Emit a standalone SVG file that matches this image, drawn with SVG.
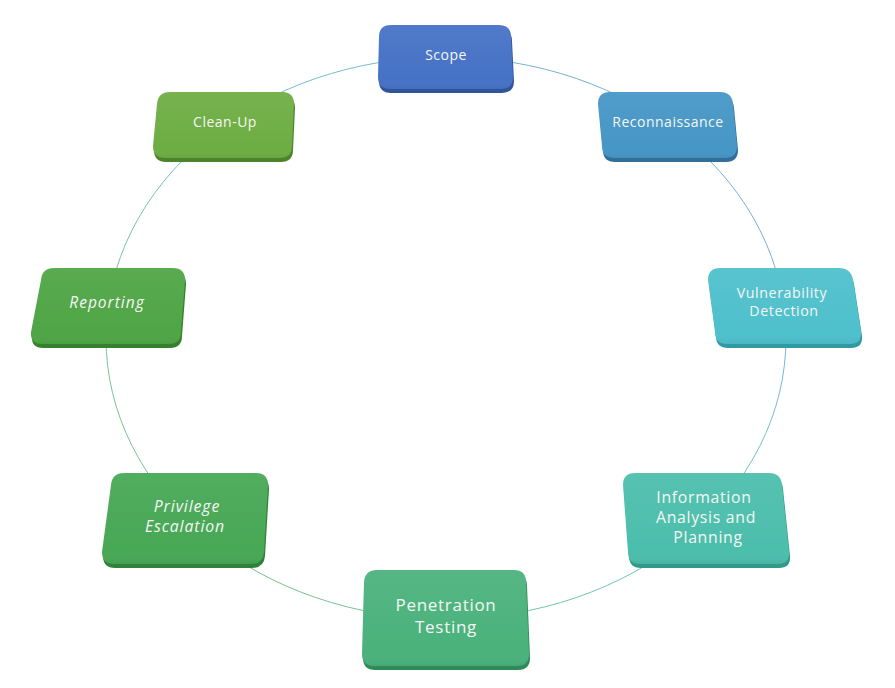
<svg xmlns="http://www.w3.org/2000/svg" width="895" height="688" viewBox="0 0 895 688">
<defs>
<linearGradient id="ring" x1="1" y1="0" x2="0" y2="1">
<stop offset="0" stop-color="#7aa2d8"/>
<stop offset="0.45" stop-color="#72c4c8"/>
<stop offset="1" stop-color="#7cc07a"/>
</linearGradient>
<linearGradient id="sheen" x1="0" y1="0" x2="0" y2="1">
<stop offset="0" stop-color="#ffffff" stop-opacity="0.06"/>
<stop offset="0.85" stop-color="#ffffff" stop-opacity="0"/>
<stop offset="1" stop-color="#000000" stop-opacity="0.05"/>
</linearGradient>
</defs>
<style>
.bevel{stroke:none}
.face{stroke:none}
.sheen{fill:url(#sheen);stroke:none}
.lbl{font-family:"Open Sans","Noto Sans","Liberation Sans",sans-serif;fill:#f4f7f4;text-anchor:middle;letter-spacing:0.5px}
.it{font-style:italic}
</style>
<rect width="895" height="688" fill="#ffffff"/>
<g id="connectors">
<ellipse cx="446" cy="338" rx="340" ry="281" fill="none" stroke="url(#ring)" stroke-width="1"/>
</g>
<g id="scope">
<path class="bevel" fill="#31559a" transform="translate(1,4)" d="M391,25 H499 Q511,25 511,37 L513,77 Q513,89 501,89 H390 Q378,89 378,77 L379,37 Q379,25 391,25 Z"/>
<path class="face" fill="#4672c6" d="M391,25 H499 Q511,25 511,37 L513,77 Q513,89 501,89 H390 Q378,89 378,77 L379,37 Q379,25 391,25 Z"/>
<path class="sheen" d="M391,25 H499 Q511,25 511,37 L513,77 Q513,89 501,89 H390 Q378,89 378,77 L379,37 Q379,25 391,25 Z"/>
<text class="lbl" x="446" y="60" font-size="14">Scope</text>
</g>
<g id="reconnaissance">
<path class="bevel" fill="#2f6f98" transform="translate(1,4)" d="M610,92 H720 Q732,92 733,104 L737,146 Q737,158 725,158 H614 Q602,158 602,146 L598,104 Q598,92 610,92 Z"/>
<path class="face" fill="#4696c6" d="M610,92 H720 Q732,92 733,104 L737,146 Q737,158 725,158 H614 Q602,158 602,146 L598,104 Q598,92 610,92 Z"/>
<path class="sheen" d="M610,92 H720 Q732,92 733,104 L737,146 Q737,158 725,158 H614 Q602,158 602,146 L598,104 Q598,92 610,92 Z"/>
<text class="lbl" x="668" y="127" font-size="14">Reconnaissance</text>
</g>
<g id="vulnerability-detection">
<path class="bevel" fill="#2f9aa4" transform="translate(1,4)" d="M720,268 H839 Q851,268 853,280 L861,332 Q862,344 850,344 H727 Q715,344 715,332 L708,280 Q708,268 720,268 Z"/>
<path class="face" fill="#4ec0cc" d="M720,268 H839 Q851,268 853,280 L861,332 Q862,344 850,344 H727 Q715,344 715,332 L708,280 Q708,268 720,268 Z"/>
<path class="sheen" d="M720,268 H839 Q851,268 853,280 L861,332 Q862,344 850,344 H727 Q715,344 715,332 L708,280 Q708,268 720,268 Z"/>
<text class="lbl" font-size="14.2" style="letter-spacing:0.6px"><tspan x="782" y="298">Vulnerability</tspan><tspan x="784" y="316">Detection</tspan></text>
</g>
<g id="information-analysis">
<path class="bevel" fill="#2f9a88" transform="translate(1,4)" d="M635,473 H769 Q781,473 782,485 L789,552 Q790,564 778,564 H640 Q628,564 628,552 L623,485 Q623,473 635,473 Z"/>
<path class="face" fill="#4cbeac" d="M635,473 H769 Q781,473 782,485 L789,552 Q790,564 778,564 H640 Q628,564 628,552 L623,485 Q623,473 635,473 Z"/>
<path class="sheen" d="M635,473 H769 Q781,473 782,485 L789,552 Q790,564 778,564 H640 Q628,564 628,552 L623,485 Q623,473 635,473 Z"/>
<text class="lbl" font-size="15.8" style="letter-spacing:0.7px"><tspan x="704" y="503">Information</tspan><tspan x="706" y="523">Analysis and</tspan><tspan x="708" y="543">Planning</tspan></text>
</g>
<g id="penetration-testing">
<path class="bevel" fill="#2f8a58" transform="translate(1,4)" d="M377,570 H514 Q526,570 526,582 L529,654 Q529,666 517,666 H374 Q362,666 362,654 L364,582 Q365,570 377,570 Z"/>
<path class="face" fill="#4ab27c" d="M377,570 H514 Q526,570 526,582 L529,654 Q529,666 517,666 H374 Q362,666 362,654 L364,582 Q365,570 377,570 Z"/>
<path class="sheen" d="M377,570 H514 Q526,570 526,582 L529,654 Q529,666 517,666 H374 Q362,666 362,654 L364,582 Q365,570 377,570 Z"/>
<text class="lbl" font-size="17" style="letter-spacing:0.7px"><tspan x="446" y="611">Penetration</tspan><tspan x="446" y="633">Testing</tspan></text>
</g>
<g id="privilege-escalation">
<path class="bevel" fill="#2e823a" transform="translate(1,4)" d="M124,473 H256 Q268,473 268,485 L264,552 Q263,564 251,564 H114 Q102,564 102,552 L111,485 Q112,473 124,473 Z"/>
<path class="face" fill="#47a855" d="M124,473 H256 Q268,473 268,485 L264,552 Q263,564 251,564 H114 Q102,564 102,552 L111,485 Q112,473 124,473 Z"/>
<path class="sheen" d="M124,473 H256 Q268,473 268,485 L264,552 Q263,564 251,564 H114 Q102,564 102,552 L111,485 Q112,473 124,473 Z"/>
<text class="lbl it" font-size="15.8" style="letter-spacing:0.9px"><tspan x="187" y="512">Privilege</tspan><tspan x="185" y="532">Escalation</tspan></text>
</g>
<g id="reporting">
<path class="bevel" fill="#34802c" transform="translate(1,4)" d="M54,268 H173 Q185,268 185,280 L181,332 Q181,344 169,344 H42 Q30,344 31,332 L41,280 Q42,268 54,268 Z"/>
<path class="face" fill="#4fa545" d="M54,268 H173 Q185,268 185,280 L181,332 Q181,344 169,344 H42 Q30,344 31,332 L41,280 Q42,268 54,268 Z"/>
<path class="sheen" d="M54,268 H173 Q185,268 185,280 L181,332 Q181,344 169,344 H42 Q30,344 31,332 L41,280 Q42,268 54,268 Z"/>
<text class="lbl it" x="107" y="308" font-size="15.5" style="letter-spacing:1px">Reporting</text>
</g>
<g id="clean-up">
<path class="bevel" fill="#4c842c" transform="translate(1,4)" d="M170,92 H282 Q294,92 294,104 L292,146 Q292,158 280,158 H165 Q153,158 153,146 L157,104 Q158,92 170,92 Z"/>
<path class="face" fill="#6ead43" d="M170,92 H282 Q294,92 294,104 L292,146 Q292,158 280,158 H165 Q153,158 153,146 L157,104 Q158,92 170,92 Z"/>
<path class="sheen" d="M170,92 H282 Q294,92 294,104 L292,146 Q292,158 280,158 H165 Q153,158 153,146 L157,104 Q158,92 170,92 Z"/>
<text class="lbl" x="225" y="127" font-size="14">Clean-Up</text>
</g>
</svg>
